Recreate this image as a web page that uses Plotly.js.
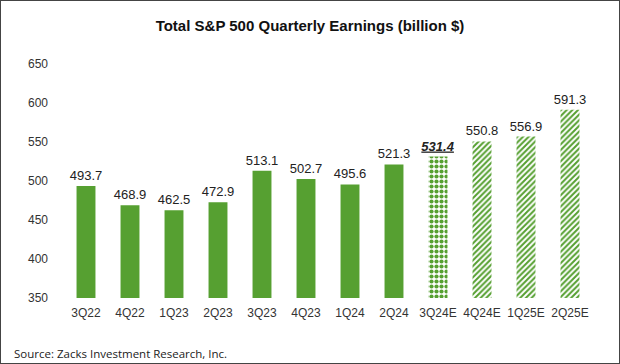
<!DOCTYPE html>
<html><head><meta charset="utf-8">
<script src="https://cdn.plot.ly/plotly-3.0.1.min.js"></script>
<style>
html,body{margin:0;padding:0;background:#fff;}
#wrap{position:relative;width:620px;height:364px;}
#chart{width:620px;height:364px;}
#frame{position:absolute;left:0;top:0;width:620px;height:364px;box-sizing:border-box;border:1.5px solid #444;pointer-events:none;}
</style></head>
<body>
<div id="wrap"><div id="chart"></div><div id="frame"></div></div>
<script>
var quarters = ['3Q22','4Q22','1Q23','2Q23','3Q23','4Q23','1Q24','2Q24','3Q24E','4Q24E','1Q25E','2Q25E'];
var earnings = [493.7,468.9,462.5,472.9,513.1,502.7,495.6,521.3,531.4,550.8,556.9,591.3];
var patterns = ['','','','','','','','','.','/','/','/'];
var patternSizes = [4,4,4,4,4,4,4,4,5,4,4,4];
var patternSolidity = [0.5,0.5,0.5,0.5,0.5,0.5,0.5,0.5,0.55,0.5,0.5,0.5];
var labels = earnings.map(function(v,i){
  var s = v.toFixed(1);
  if (quarters[i]==='3Q24E') return '<b><i><span style="text-decoration:underline">'+s+'</span></i></b>';
  return s;
});
var green = '#56A031';
var trace = {
  type:'bar', x:quarters, y:earnings, text:labels, textposition:'outside',
  constraintext:'none',
  textfont:{family:'Arial, Liberation Sans, sans-serif', size:13, color:'#222'},
  cliponaxis:false,
  marker:{color:green, line:{width:0},
    pattern:{shape:patterns, fgcolor:green, bgcolor:'#ffffff', size:patternSizes, solidity:patternSolidity, fillmode:'replace'}},
  hoverinfo:'none'
};
var layout = {
  width:620, height:364,
  margin:{l:64,r:28,t:64,b:66},
  paper_bgcolor:'#fff', plot_bgcolor:'#fff',
  bargap:0.57,
  showlegend:false,
  title:{text:'<b>Total S&P 500 Quarterly Earnings (billion $)</b>', x:0.5, xref:'container', xanchor:'center', y:0.945, yref:'container', font:{family:'Arial, Liberation Sans, sans-serif', size:15, color:'#111'}},
  xaxis:{type:'category', showgrid:false, showline:false, zeroline:false, ticks:'',
    ticklabelstandoff:6,
    tickfont:{family:'Arial, Liberation Sans, sans-serif', size:12, color:'#333'}},
  yaxis:{range:[350,650], dtick:50, tick0:350, showgrid:false, showline:false, zeroline:false, ticks:'',
    ticklabelstandoff:15,
    tickfont:{family:'Arial, Liberation Sans, sans-serif', size:12, color:'#333'}},
  annotations:[{text:'Source: Zacks Investment Research, Inc.', xref:'paper', yref:'paper',
    x:-52/528, y:-55/234, xanchor:'left', yanchor:'middle', showarrow:false,
    font:{family:'Open Sans, DejaVu Sans, sans-serif', size:11.5, color:'#222'}}]
};
Plotly.newPlot('chart',[trace],layout,{staticPlot:true});
</script>
</body></html>
